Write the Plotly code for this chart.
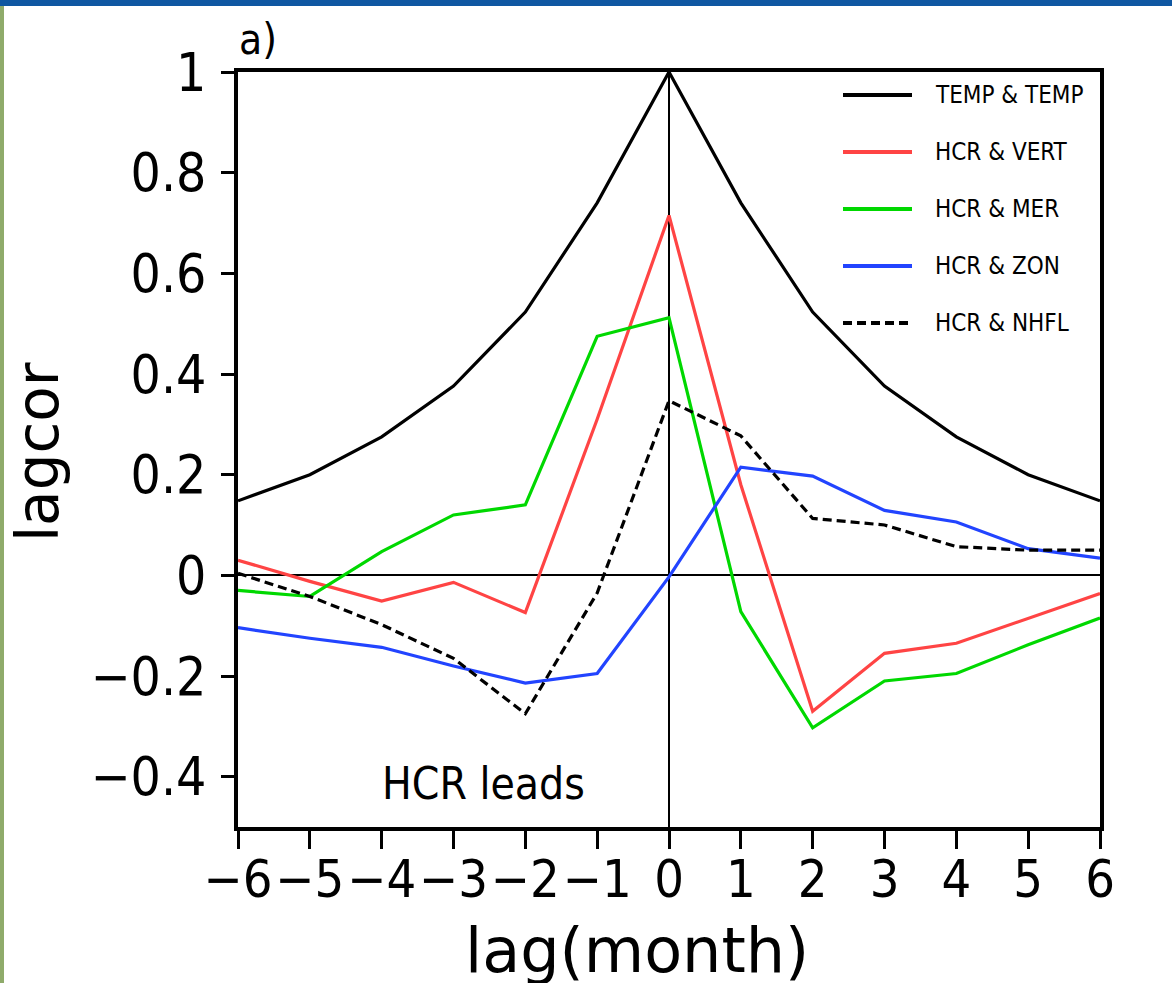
import plotly.graph_objects as go

# ---------------- data ----------------
lags = [-6, -5, -4, -3, -2, -1, 0, 1, 2, 3, 4, 5, 6]
temp_temp = [0.148, 0.20, 0.275, 0.376, 0.523, 0.74, 1.0, 0.74, 0.523, 0.376, 0.275, 0.20, 0.148]
hcr_vert = [0.03, -0.012, -0.051, -0.014, -0.074, 0.31, 0.715, 0.18, -0.27, -0.155, -0.135, -0.085, -0.036]
hcr_mer = [-0.03, -0.042, 0.047, 0.12, 0.14, 0.475, 0.512, -0.072, -0.303, -0.21, -0.195, -0.138, -0.085]
hcr_zon = [-0.104, -0.125, -0.143, -0.18, -0.214, -0.195, -0.003, 0.215, 0.197, 0.129, 0.106, 0.053, 0.034]
hcr_nhfl = [0.004, -0.042, -0.098, -0.165, -0.275, -0.035, 0.347, 0.277, 0.113, 0.10, 0.057, 0.05, 0.05]

series_names = ["TEMP & TEMP", "HCR & VERT", "HCR & MER", "HCR & ZON", "HCR & NHFL"]
series_values = [temp_temp, hcr_vert, hcr_mer, hcr_zon, hcr_nhfl]
series_colors = ["#000000", "#ff4444", "#00d800", "#2244ff", "#000000"]
series_dash = ["solid", "solid", "solid", "solid", "9px,5px"]

y_ticks = [-0.4, -0.2, 0, 0.2, 0.4, 0.6, 0.8, 1]
y_ticktext = ["−0.4", "−0.2", "0", "0.2", "0.4", "0.6", "0.8", "1"]
x_ticks = lags
x_ticktext = [("−" + str(-v)) if v < 0 else str(v) for v in lags]

# ---------------- layout geometry ----------------
W, H = 1172, 983
ML, MR, MT, MB = 238, 72, 72, 156
PW, PH = W - ML - MR, H - MT - MB


def px_x(px):
    return (px - ML) / PW


def px_y(py):
    return (H - MB - py) / PH


FONT = "DejaVu Sans Condensed, DejaVu Sans, sans-serif"

fig = go.Figure()
for name, vals, col, dash in zip(series_names, series_values, series_colors, series_dash):
    fig.add_trace(go.Scatter(x=lags, y=vals, mode="lines", name=name,
                             line=dict(color=col, width=3.2, dash=dash),
                             showlegend=False))

shapes = []
annotations = []

# manual legend (drawn like the original)
for i, (name, col, dash) in enumerate(zip(series_names, series_colors, series_dash)):
    yc = px_y(95 + 57 * i)
    shapes.append(dict(type="line", xref="paper", yref="paper",
                       x0=px_x(843), x1=px_x(912), y0=yc, y1=yc,
                       line=dict(color=col, width=4, dash=dash)))
    annotations.append(dict(xref="paper", yref="paper", x=px_x(933), y=yc,
                            text=name, showarrow=False, xanchor="left", yanchor="middle",
                            font=dict(family=FONT, size=24, color="black")))

# page decorations: blue top bar and green left bar
shapes.append(dict(type="rect", xref="paper", yref="paper", layer="above",
                   x0=px_x(0), x1=px_x(W), y0=px_y(6), y1=px_y(0),
                   fillcolor="#0f57a2", line=dict(width=0)))
shapes.append(dict(type="rect", xref="paper", yref="paper", layer="above",
                   x0=px_x(0), x1=px_x(4), y0=px_y(H), y1=px_y(6),
                   fillcolor="#8fab6b", line=dict(width=0)))

annotations += [
    dict(xref="paper", yref="paper", x=px_x(258), y=px_y(40), text="a)",
         showarrow=False, xanchor="center", yanchor="middle",
         font=dict(family=FONT, size=42, color="black")),
    dict(xref="paper", yref="paper", x=px_x(483), y=px_y(783), text="HCR leads",
         showarrow=False, xanchor="center", yanchor="middle",
         font=dict(family=FONT, size=44, color="black")),
    dict(xref="paper", yref="paper", x=px_x(637), y=px_y(950), text="lag(month)",
         showarrow=False, xanchor="center", yanchor="middle",
         font=dict(family="DejaVu Sans, sans-serif", size=62, color="black")),
    dict(xref="paper", yref="paper", x=px_x(38), y=px_y(452), text="lagcor",
         showarrow=False, xanchor="center", yanchor="middle", textangle=-90,
         font=dict(family="DejaVu Sans, sans-serif", size=58, color="black")),
]

fig.update_layout(
    width=W, height=H,
    margin=dict(l=ML, r=MR, t=MT, b=MB, pad=0),
    paper_bgcolor="white", plot_bgcolor="white",
    showlegend=False,
    shapes=shapes, annotations=annotations,
    xaxis=dict(range=[-6, 6], tickvals=x_ticks, ticktext=x_ticktext,
               showgrid=False, zeroline=True, zerolinecolor="black", zerolinewidth=2,
               showline=True, linecolor="black", linewidth=4, mirror=True,
               ticks="outside", ticklen=18, tickwidth=3, tickcolor="black",
               tickangle=0, ticklabelstandoff=-14,
               tickfont=dict(family=FONT, size=52, color="black")),
    yaxis=dict(range=[-0.5, 1], tickvals=y_ticks, ticktext=y_ticktext,
               showgrid=False, zeroline=True, zerolinecolor="black", zerolinewidth=2,
               showline=True, linecolor="black", linewidth=4, mirror=True,
               ticks="outside", ticklen=13, tickwidth=3, tickcolor="black",
               ticklabelstandoff=4,
               tickfont=dict(family=FONT, size=53, color="black")),
)

fig.write_html("out.html", config={"displayModeBar": False},
               post_script="document.body.style.margin='0px';document.body.style.overflow='hidden';")
